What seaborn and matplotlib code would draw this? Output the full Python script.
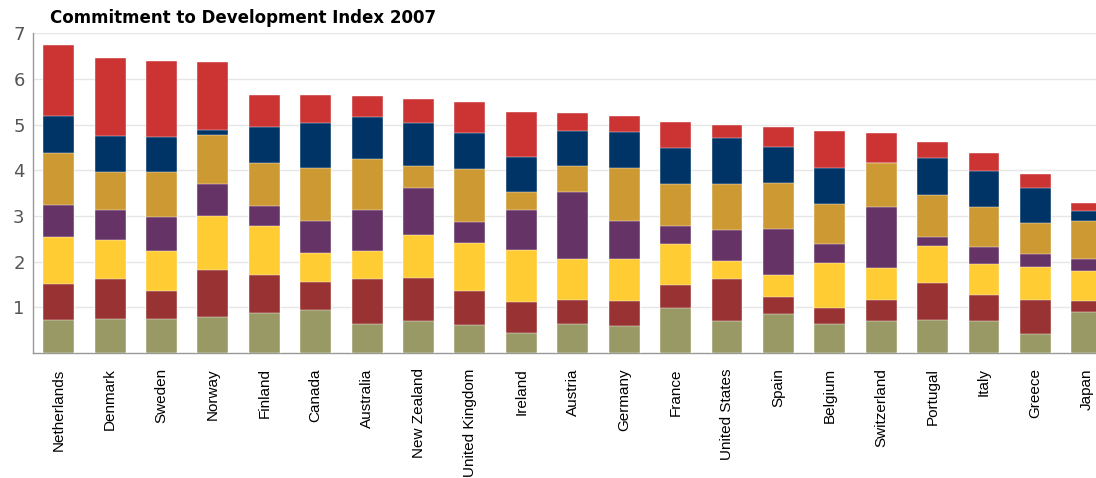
import pandas as pd
import seaborn as sns
import matplotlib.pyplot as plt

countries = ["Netherlands", "Denmark", "Sweden", "Norway", "Finland", "Canada",
             "Australia", "New Zealand", "United Kingdom", "Ireland", "Austria",
             "Germany", "France", "United States", "Spain", "Belgium",
             "Switzerland", "Portugal", "Italy", "Greece", "Japan"]

# stacked components, bottom to top
technology  = [0.73, 0.75, 0.74, 0.78, 0.88, 0.94, 0.64, 0.69, 0.61, 0.43, 0.63,
               0.60, 0.98, 0.69, 0.85, 0.64, 0.69, 0.73, 0.70, 0.42, 0.89]
security    = [0.78, 0.86, 0.61, 1.03, 0.82, 0.62, 0.97, 0.95, 0.75, 0.68, 0.54,
               0.53, 0.50, 0.92, 0.38, 0.34, 0.48, 0.80, 0.56, 0.73, 0.24]
environment = [1.03, 0.86, 0.89, 1.19, 1.09, 0.62, 0.62, 0.95, 1.05, 1.14, 0.88,
               0.92, 0.91, 0.41, 0.47, 1.00, 0.69, 0.82, 0.68, 0.74, 0.67]
migration   = [0.70, 0.66, 0.73, 0.70, 0.42, 0.72, 0.90, 1.02, 0.45, 0.88, 1.48,
               0.85, 0.39, 0.67, 1.01, 0.40, 1.33, 0.19, 0.39, 0.27, 0.25]
investment  = [1.15, 0.84, 0.99, 1.08, 0.94, 1.14, 1.11, 0.49, 1.17, 0.40, 0.56,
               1.16, 0.92, 1.01, 1.02, 0.89, 0.96, 0.93, 0.86, 0.68, 0.84]
trade       = [0.81, 0.78, 0.77, 0.10, 0.80, 1.00, 0.93, 0.93, 0.79, 0.76, 0.77,
               0.78, 0.79, 1.01, 0.79, 0.77, 0.00, 0.80, 0.80, 0.78, 0.22]
aid         = [1.54, 1.71, 1.66, 1.49, 0.69, 0.60, 0.46, 0.54, 0.67, 0.98, 0.40,
               0.36, 0.56, 0.28, 0.43, 0.83, 0.66, 0.36, 0.39, 0.30, 0.17]

components = ["Technology", "Security", "Environment", "Migration",
              "Investment", "Trade", "Aid"]
colors = ["#999966", "#993333", "#ffcc33", "#663366", "#cc9933", "#003366", "#cc3333"]

df = pd.DataFrame({"Country": countries, "Technology": technology,
                   "Security": security, "Environment": environment,
                   "Migration": migration, "Investment": investment,
                   "Trade": trade, "Aid": aid})
cum = df[components].cumsum(axis=1)
cum["Country"] = df["Country"]

sns.set_theme(style="white")
plt.rcParams['font.family'] = ['Liberation Sans', 'DejaVu Sans']

W, H = 1096, 478
fig = plt.figure(figsize=(W / 100, H / 100), dpi=100)
ax = fig.add_axes([33 / W, 1 - 353 / H, 1 - 33 / W, (353 - 33.3) / H])

# draw tallest cumulative first so lower segments sit on top
for comp, col in reversed(list(zip(components, colors))):
    sns.barplot(data=cum, x="Country", y=comp, order=countries, color=col,
                width=0.6, errorbar=None, saturation=1, edgecolor="white",
                linewidth=0.3, ax=ax, zorder=3)

ax.set_xlim(-0.5, 20.18)
ax.set_ylim(0, 7)
ax.set_yticks([1, 2, 3, 4, 5, 6, 7])
ax.set_yticklabels(["1", "2", "3", "4", "5", "6", "7"], fontsize=13,
                   color="#555555", family="DejaVu Sans")
ax.set_xticks(range(len(countries)))
ax.set_xticklabels(countries, rotation=90, fontsize=11, color="black")
ax.tick_params(axis="both", length=0)
ax.tick_params(axis="y", pad=6)
ax.tick_params(axis="x", pad=11)
ax.set_xlabel("")
ax.set_ylabel("")
ax.yaxis.grid(True, color="#e6e6e6", linewidth=1, zorder=0)
ax.set_axisbelow(True)
for s in ["top", "right"]:
    ax.spines[s].set_visible(False)
for s in ["left", "bottom"]:
    ax.spines[s].set_color("#999999")
    ax.spines[s].set_linewidth(1)

fig.text(50 / W, 1 - 18 / H, "Commitment to Development Index 2007",
         fontsize=12, fontweight="bold", family="DejaVu Sans", color="black",
         ha="left", va="center")

fig.savefig("out.png", dpi=100)
